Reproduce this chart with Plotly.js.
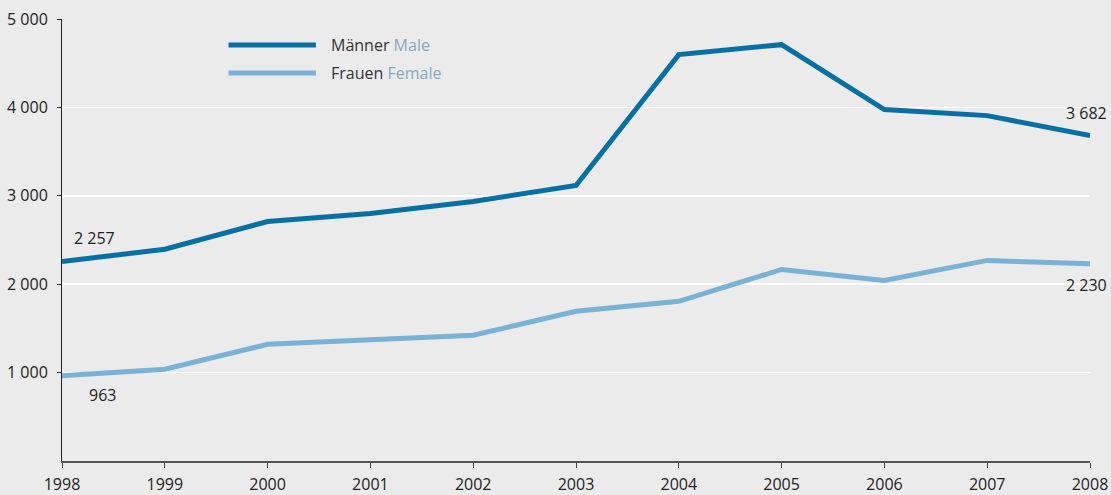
<!DOCTYPE html>
<html>
<head>
<meta charset="utf-8">
<script src="https://cdn.plot.ly/plotly-3.0.1.min.js"></script>
<style>
  html, body { margin: 0; padding: 0; background: #ebebeb; }
  #graph { width: 1111px; height: 495px; }
</style>
</head>
<body>
<div id="graph"></div>
<script>
// Jahre und Werte
const years = [1998, 1999, 2000, 2001, 2002, 2003, 2004, 2005, 2006, 2007, 2008];
const maenner = [2257, 2395, 2709, 2800, 2936, 3117, 4597, 4710, 3975, 3907, 3682];
const frauen = [963, 1038, 1320, 1366, 1422, 1693, 1806, 2167, 2043, 2269, 2230];
const yTicks = [1000, 2000, 3000, 4000, 5000];
const yTickText = ['1 000', '2 000', '3 000', '4 000', '5 000'];
const legendDe = ['Männer', 'Frauen'];
const legendEn = ['Male', 'Female'];

const colMale = '#0770a3';
const colFemale = '#7ab2d6';
const fontFam = 'Open Sans, sans-serif';

document.addEventListener('DOMContentLoaded', function() {
    // Zahl mit Leerzeichen als Tausendertrenner
    const fmt = v => v >= 1000 ? Math.floor(v / 1000) + ' ' + String(v % 1000).padStart(3, '0') : String(v);
    const last = years.length - 1;

    const traces = [
        { x: years, y: maenner, type: 'scatter', mode: 'lines', line: { color: colMale, width: 5 }, hoverinfo: 'skip' },
        { x: years, y: frauen, type: 'scatter', mode: 'lines', line: { color: colFemale, width: 5 }, hoverinfo: 'skip' }
    ];

    // Beschriftungen an den Endpunkten
    const lbl = (x, y, text, anchor, xs, ys) => ({
        x: x, y: y, xref: 'x', yref: 'y', text: text, showarrow: false,
        xanchor: anchor, yanchor: 'middle', xshift: xs, yshift: ys,
        font: { size: 16, color: '#222' }
    });
    const annotations = [
        lbl(years[0], maenner[0], fmt(maenner[0]), 'left', 10, 23),
        lbl(years[0], frauen[0], fmt(frauen[0]), 'left', 25, -19),
        lbl(years[last], maenner[last], fmt(maenner[last]), 'right', 19, 23),
        lbl(years[last], frauen[last], fmt(frauen[last]), 'right', 19, -21)
    ];

    // eigene Legende
    const legendY = [0.941, 0.878];
    const legendCols = [colMale, colFemale];
    const shapes = [];
    legendDe.forEach((name, i) => {
        shapes.push({ type: 'line', xref: 'paper', yref: 'paper', x0: 0.162, x1: 0.247, y0: legendY[i], y1: legendY[i],
            line: { color: legendCols[i], width: 5 } });
        annotations.push({ xref: 'paper', yref: 'paper', x: 0.260, y: legendY[i], xanchor: 'left', yanchor: 'middle',
            showarrow: false, font: { size: 16, color: '#333' },
            text: name + ' <span style="color:#86a8bf">' + legendEn[i] + '</span>' });
    });

    const layout = {
        width: 1111, height: 495,
        margin: { l: 62, r: 21, t: 19, b: 34 },
        paper_bgcolor: '#ebebeb',
        plot_bgcolor: '#ebebeb',
        font: { family: fontFam, size: 16, color: '#222' },
        showlegend: false,
        xaxis: {
            range: [1998, 2008], tickvals: years, ticks: 'outside', ticklen: 5, tickcolor: '#444',
            showline: true, linecolor: '#555', linewidth: 2, showgrid: false, zeroline: false,
            tickfont: { size: 16, color: '#222' }, ticklabelstandoff: 3
        },
        yaxis: {
            range: [0, 5000], tickvals: yTicks, ticktext: yTickText, ticks: 'outside', ticklen: 4, tickcolor: '#222',
            showline: true, linecolor: '#222', linewidth: 1, gridcolor: '#ffffff', gridwidth: 1.5, zeroline: false,
            tickfont: { size: 16, color: '#222' }, ticklabelstandoff: 6
        },
        shapes: shapes,
        annotations: annotations
    };

    Plotly.newPlot('graph', traces, layout, { staticPlot: true });
});
</script>
</body>
</html>
